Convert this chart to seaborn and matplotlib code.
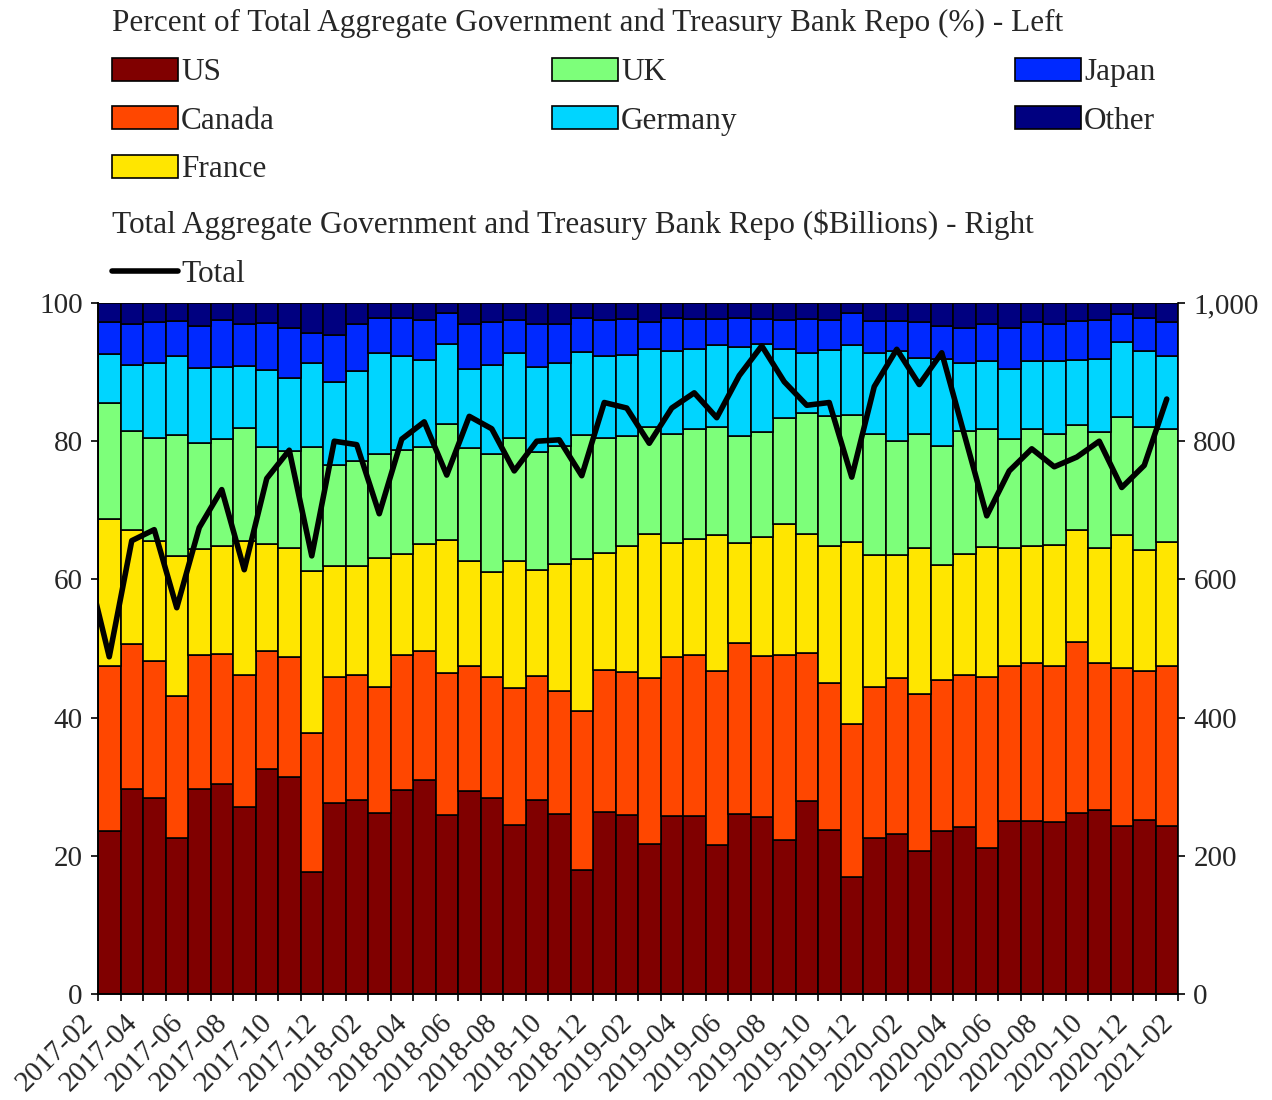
import numpy as np
import matplotlib
matplotlib.use("Agg")
import matplotlib.pyplot as plt
import matplotlib.transforms as mtransforms
from matplotlib.ticker import FuncFormatter, MultipleLocator
import seaborn as sns

# country shares of total repo (%), monthly 2017-02 .. 2021-01
countries = ["US", "Canada", "France", "UK", "Germany", "Japan", "Other"]

us = [23.6, 29.6, 28.4, 22.6, 29.7, 30.4, 27.0, 32.6, 31.4, 17.6, 27.7, 28.1,
      26.2, 29.5, 31.0, 25.9, 29.4, 28.4, 24.5, 28.1, 26.1, 17.9, 26.4, 25.9,
      21.7, 25.8, 25.8, 21.6, 26.0, 25.6, 22.3, 27.9, 23.7, 16.9, 22.6, 23.1,
      20.7, 23.6, 24.1, 21.2, 25.1, 25.0, 24.9, 26.2, 26.6, 24.3, 25.2, 24.3]
canada = [23.9, 21.0, 19.8, 20.5, 19.3, 18.8, 19.2, 17.0, 17.3, 20.2, 18.2, 18.1,
          18.2, 19.5, 18.6, 20.5, 18.1, 17.5, 19.8, 17.9, 17.7, 23.0, 20.5, 20.7,
          24.1, 22.9, 23.2, 25.2, 24.8, 23.3, 26.7, 21.5, 21.3, 22.2, 21.9, 22.7,
          22.7, 21.8, 22.0, 24.7, 22.3, 22.9, 22.6, 24.8, 21.3, 22.9, 21.5, 23.2]
france = [21.2, 16.5, 17.4, 20.3, 15.4, 15.7, 19.4, 15.5, 15.8, 23.4, 16.1, 15.8,
          18.7, 14.7, 15.5, 19.3, 15.2, 15.2, 18.3, 15.4, 18.5, 22.1, 16.9, 18.2,
          20.8, 16.5, 16.8, 19.6, 14.4, 17.2, 19.0, 17.2, 19.9, 26.3, 19.1, 17.8,
          21.1, 16.7, 17.6, 18.8, 17.2, 17.0, 17.5, 16.2, 16.6, 19.2, 17.6, 17.9]
uk = [16.9, 14.4, 14.9, 17.5, 15.3, 15.4, 16.3, 14.1, 14.1, 18.0, 14.5, 15.2,
      15.1, 15.0, 14.0, 16.8, 16.3, 17.1, 17.9, 17.1, 17.0, 17.9, 16.7, 16.0,
      15.5, 15.9, 16.0, 15.7, 15.6, 15.3, 15.4, 17.5, 18.8, 18.4, 17.5, 16.4,
      16.6, 17.2, 17.8, 17.1, 15.7, 16.9, 16.0, 15.1, 16.8, 17.1, 17.8, 16.4]
germany = [7.0, 9.5, 10.8, 11.4, 10.9, 10.4, 9.0, 11.1, 10.6, 12.1, 12.0, 13.0,
           14.5, 13.6, 12.7, 11.6, 11.5, 12.8, 12.3, 12.2, 12.0, 12.0, 11.8, 11.7,
           11.3, 11.9, 11.5, 11.8, 12.8, 12.6, 9.9, 8.7, 9.5, 10.1, 11.7, 13.0,
           10.9, 12.6, 9.8, 9.8, 10.2, 9.8, 10.6, 9.4, 10.6, 10.9, 11.0, 10.5]
japan = [4.6, 6.0, 5.9, 5.1, 6.1, 6.8, 6.1, 6.8, 7.2, 4.4, 6.9, 6.7,
         5.1, 5.5, 5.7, 4.5, 6.5, 6.2, 4.8, 6.2, 5.6, 5.0, 5.3, 5.2,
         3.8, 4.9, 4.4, 3.8, 4.2, 3.7, 4.2, 4.9, 4.3, 4.6, 4.6, 4.4,
         5.2, 4.8, 5.1, 5.3, 5.9, 5.6, 5.4, 5.7, 5.7, 4.0, 4.8, 4.9]
other = [2.8, 3.0, 2.8, 2.6, 3.3, 2.5, 3.0, 2.9, 3.6, 4.3, 4.6, 3.1,
         2.2, 2.2, 2.5, 1.4, 3.0, 2.8, 2.4, 3.1, 3.1, 2.1, 2.4, 2.3,
         2.8, 2.1, 2.3, 2.3, 2.2, 2.3, 2.5, 2.3, 2.5, 1.5, 2.6, 2.6,
         2.8, 3.3, 3.6, 3.1, 3.6, 2.8, 3.0, 2.6, 2.4, 1.6, 2.1, 2.8]

# total repo ($bn), monthly 2017-01 .. 2021-01 (first point sits left of the axis)
total_bn = [622, 488, 656, 672, 559, 675, 730, 614, 746, 787, 634, 800, 795,
            695, 803, 828, 751, 836, 818, 757, 800, 802, 750, 856, 848,
            797, 848, 870, 834, 895, 938, 886, 852, 856, 748, 879, 933,
            882, 928, 810, 692, 757, 789, 763, 777, 800, 733, 765, 861]

xtick_labels = ["2017-02", "2017-04", "2017-06", "2017-08", "2017-10", "2017-12",
                "2018-02", "2018-04", "2018-06", "2018-08", "2018-10", "2018-12",
                "2019-02", "2019-04", "2019-06", "2019-08", "2019-10", "2019-12",
                "2020-02", "2020-04", "2020-06", "2020-08", "2020-10", "2020-12",
                "2021-02"]

title_left = "Percent of Total Aggregate Government and Treasury Bank Repo (%) - Left"
title_right = "Total Aggregate Government and Treasury Bank Repo ($Billions) - Right"

sns.set_style("ticks")
plt.rcParams["font.family"] = ["Liberation Serif", "DejaVu Serif"]
FS = 21      # tick labels
LFS = 22.5   # legend text

W, H = 1272, 1100
fig = plt.figure(figsize=(W / 100, H / 100), dpi=100)
ax = fig.add_axes([98 / W, 1 - 994 / H, (1178 - 98) / W, (994 - 303) / H])

shares = [us, canada, france, uk, germany, japan, other]
colors = plt.cm.jet(np.linspace(1, 0, len(countries)))
xpos = np.arange(len(us))
bottom = np.zeros(len(us))
bars = []
for name, vals, c in zip(countries, shares, colors):
    b = ax.bar(xpos, vals, bottom=bottom, width=1.0, align="edge", color=c,
               edgecolor="black", linewidth=1.2, label=name)
    bars.append(b)
    bottom = bottom + np.array(vals)

ax.set_xlim(0, len(us))
ax.set_ylim(0, 100)
ax.set_yticks(np.arange(0, 101, 20))
ax.set_xticks(np.arange(0, len(us) + 1, 2))
ax.set_xticklabels(xtick_labels, rotation=45, ha="right")
ax.xaxis.set_minor_locator(MultipleLocator(1))
shift = mtransforms.ScaledTranslation(-6 / 100, 0, fig.dpi_scale_trans)
for lbl in ax.get_xticklabels():
    lbl.set_transform(lbl.get_transform() + shift)

# total on the right axis, points at mid-month
ax2 = ax.twinx()
line_x = np.arange(len(total_bn)) - 0.5
sns.lineplot(x=line_x, y=total_bn, ax=ax2, color="black", linewidth=4,
             legend=False)
line = ax2.lines[0]
ax2.set_ylim(0, 1000)
ax2.set_yticks(np.arange(0, 1001, 200))
ax2.yaxis.set_major_formatter(FuncFormatter(lambda v, p: f"{v:,.0f}"))
ax2.set_xlim(0, len(us))

for a in (ax, ax2):
    a.spines["top"].set_visible(False)
    for s in ("left", "right", "bottom"):
        a.spines[s].set_color("black")
        a.spines[s].set_linewidth(1.2)
    a.tick_params(which="both", direction="out", length=5, width=1.2,
                  color="black", labelsize=FS, pad=6)
    a.set_ylabel("")
    a.set_xlabel("")
ax.spines["right"].set_visible(False)
ax.tick_params(axis="x", which="minor", length=5)

leg_kw = dict(loc="upper left", frameon=False, fontsize=LFS, title_fontsize=LFS,
              alignment="left", handlelength=2.11, handleheight=0.77,
              handletextpad=0.1, labelspacing=0.61, borderpad=0,
              borderaxespad=0)
leg1 = fig.legend(bars, countries, ncol=3, columnspacing=8.87,
                  title=title_left, bbox_to_anchor=(112 / W, 1 - 9 / H), **leg_kw)
leg2 = fig.legend([line], ["Total"], title=title_right,
                  bbox_to_anchor=(112 / W, 1 - 210 / H), **leg_kw)

fig.savefig("out.png", dpi=100)
